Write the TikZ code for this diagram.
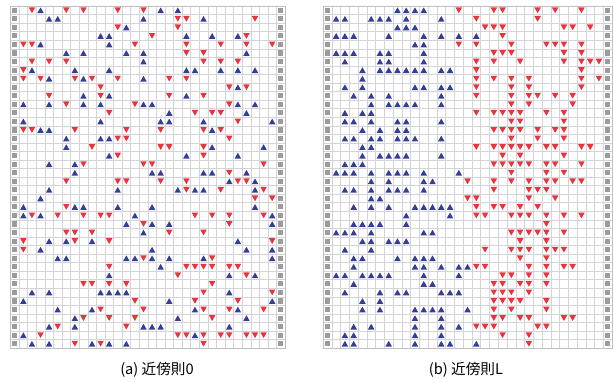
\documentclass[tikz,border=0pt]{standalone}
\usepackage{fontspec}
\usepackage{xcolor}
\newfontfamily\capfont{Noto Sans CJK JP}
\definecolor{triblue}{RGB}{52,62,150}
\definecolor{trired}{RGB}{232,52,60}
\definecolor{gridgray}{RGB}{212,212,216}
\definecolor{sidegray}{RGB}{155,155,155}

\begin{document}
\begin{tikzpicture}[x=0.03cm,y=-0.03cm,
  cellgrid/.style={draw=gridgray,line width=0.35pt},
  frame/.style={draw=gray!50,line width=0.5pt},
  sidecell/.style={fill=sidegray},
  uptri/.style={fill=triblue,rounded corners=0.2pt},
  downtri/.style={fill=trired,rounded corners=0.2pt},
  caption/.style={font=\capfont\fontsize{12.5}{14}\selectfont}]
\useasboundingbox (0,0) rectangle (614,381);

% rule 0
\begin{scope}[shift={(10.5,6)},xscale=8.58,yscale=8.55]
\foreach \i in {0,...,32} \draw[cellgrid] (\i,0) -- (\i,40);
\foreach \j in {0,...,40} \draw[cellgrid] (0,\j) -- (32,\j);
\draw[frame] (0,0) rectangle (32,40);
\foreach \j in {0,...,39} {
  \fill[sidecell] (0.2,\j+0.2) rectangle (0.8,\j+0.8);
  \fill[sidecell] (31.2,\j+0.2) rectangle (31.8,\j+0.8);
}
\foreach \r/\cs in {0/{3,17,19},1/{4,5,15,22},2/{13},3/{10,11,20,23,26},4/{3,11},
  5/{6,8,13,15,27},6/{15},7/{2,7,11,20,21,24,26,28},8/{4,8,15},9/{26},10/{8,11,20},
  11/{1,4,8,10,15,16,26,28},12/{18,27},13/{1,10,17,18,22,30},14/{3,4,23},15/{6,10,11},
  16/{6,23,29},17/{11,20,26},18/{4,7},19/{7,16,17,22,23,27},20/{25,28},
  21/{4,12,19,21,22,28},22/{3},23/{1,7,8,12,16,28},24/{1,3,14,30},25/{13,16,18,30},
  26/{15},27/{4,6,9,26},28/{3,16,27,30},29/{5,6,13,14,16,18,22,30},30/{17},
  31/{11,25,28},33/{2,4,10,11,12,13,25},34/{1,18,30},35/{5,9,21,26},36/{7,19,27},
  37/{4,7,15,16,17,25},38/{1,21},39/{2,4,9,11,13}}
  \foreach \c in \cs
    \fill[uptri] (\c+0.12,\r+0.84) -- (\c+0.88,\r+0.84) -- (\c+0.5,\r+0.16) -- cycle;
\foreach \r/\cs in {0/{2,6,8,12,15},1/{19,20,28},2/{12,19},3/{16,27},4/{1,2,14,20,24,27,30},
  5/{20,22},6/{2,4,6,22,24,26},7/{1},8/{1,3,7,9,12,18,20},9/{10,25,27},10/{4,10,18,22},
  11/{6,14,25},12/{11,21,23,24},13/{26},14/{1,2,7,13,17,22,24},15/{12,13,25},
  16/{9,17,18,22},17/{12,22},18/{8,15,16,29},19/{25},20/{6,12,13,17,20,26,27},
  21/{20,24,29},22/{28,30},23/{6},24/{2,5,8,10,11,21,23,25,29},25/{15,25},
  26/{6,7,9,18,22},27/{1,7,11,30},28/{1},29/{15,23},30/{11,20,21,22,23,25,26},
  31/{19,27},32/{8,9,11,13,23},33/{22,30},34/{14,21,26},35/{10,15,22,25,29},
  36/{8,11,14,23},37/{5,13},38/{3,19,20,22,24,25,27,28,29},39/{7,10,22}}
  \foreach \c in \cs
    \fill[downtri] (\c+0.12,\r+0.16) -- (\c+0.88,\r+0.16) -- (\c+0.5,\r+0.84) -- cycle;
\end{scope}

% rule L
\begin{scope}[shift={(323,6)},xscale=8.76,yscale=8.55]
\foreach \i in {0,...,33} \draw[cellgrid] (\i,0) -- (\i,40);
\foreach \j in {0,...,40} \draw[cellgrid] (0,\j) -- (33,\j);
\draw[frame] (0,0) rectangle (33,40);
\foreach \j in {0,...,39} {
  \fill[sidecell] (0.2,\j+0.2) rectangle (0.8,\j+0.8);
  \fill[sidecell] (32.2,\j+0.2) rectangle (32.8,\j+0.8);
}
\foreach \r/\cs in {0/{8,9,10,11},1/{1,2,5,6,7,9,13},2/{8,9,10},3/{1,2,3,7,11,13,15,17},
  4/{10,11},5/{1,2,3,6,7,11},6/{2,6,7,11},7/{4,6,7,8,9,10,11,13,14},8/{4},
  9/{2,4,10,11,13,14},10/{3,5,7,13},11/{5,7,8,9,10,13},12/{2,4,5},13/{2,3,5,8,9,13},
  14/{4,6,8,9},15/{2,3,5,6,8,9,10,13},16/{4,5},17/{4,6,7,8,9,13},18/{2,3,4},
  19/{1,2,3,5,7,8,9,11,15},20/{5,7,11,12},21/{2,3,5,7,8,9,11},22/{5,6},
  23/{3,5,7,10,11,12,13,14},24/{9,14},25/{3,4,5,6,9},26/{1,2,3,5,11,12},27/{4,5,7,8,9},
  28/{2,5},29/{3,4,8,10,11,12},30/{3,10,11,13,15,16},31/{1,2,4,5,6,7,11,15},
  32/{3,11,12},33/{2,6,8,9,13,14,15},34/{4,6},35/{4,6,10,11,12,13,16},36/{10,13},
  37/{3,5,10,13,15},38/{2,3,10,13},39/{2,3,7,10,13,14,17}}
  \foreach \c in \cs
    \fill[uptri] (\c+0.12,\r+0.84) -- (\c+0.88,\r+0.84) -- (\c+0.5,\r+0.16) -- cycle;
\foreach \r/\cs in {0/{15,19,20,24,26,29},1/{17,24},2/{18,19,20,27,28,30},3/{20},
  4/{15,17,21,25,26,27,29},5/{19,20,21,27,29},6/{17,19,22,27,29,30,31},7/{17,29},
  8/{17,19,21,23,29,31},9/{17,21,23,29},10/{17,21,23,24,26,28},11/{21,23,28},
  12/{17,19,20,21,22,25,27},13/{21,22,27},14/{19,20,21,22,24,26,27},15/{21,24,27},
  16/{17,19,20,21,22,23,25,26,29,30},17/{20,22,27},18/{19,20,21,22,23,25,26,29},
  19/{21,25,27},20/{16,19,21,23,25,26,28,29},21/{19,23,24,25},22/{16,17,23,26},
  23/{17,19,20,22,24},24/{17,18,21,22,23,25,27,29},25/{25},26/{21,22,23,24,25,27},
  27/{22,25},28/{18,21,22,23,25,26,27},29/{22,25},30/{17,18,23,25,27,28},
  31/{20,21,23,25},32/{19,20,22,23,25},33/{19,20,21,23},34/{19,20,21,22,25},
  35/{19,21,25},36/{19,20,22,23,27,28},37/{17,18,19,24,25},38/{20,23},39/{23}}
  \foreach \c in \cs
    \fill[downtri] (\c+0.12,\r+0.16) -- (\c+0.88,\r+0.16) -- (\c+0.5,\r+0.84) -- cycle;
\end{scope}

\node[caption] (capa) at (157,370) {(a) 近傍則0}; %label
\node[caption] (capb) at (466,370) {(b) 近傍則L}; %label
\end{tikzpicture}
\end{document}
